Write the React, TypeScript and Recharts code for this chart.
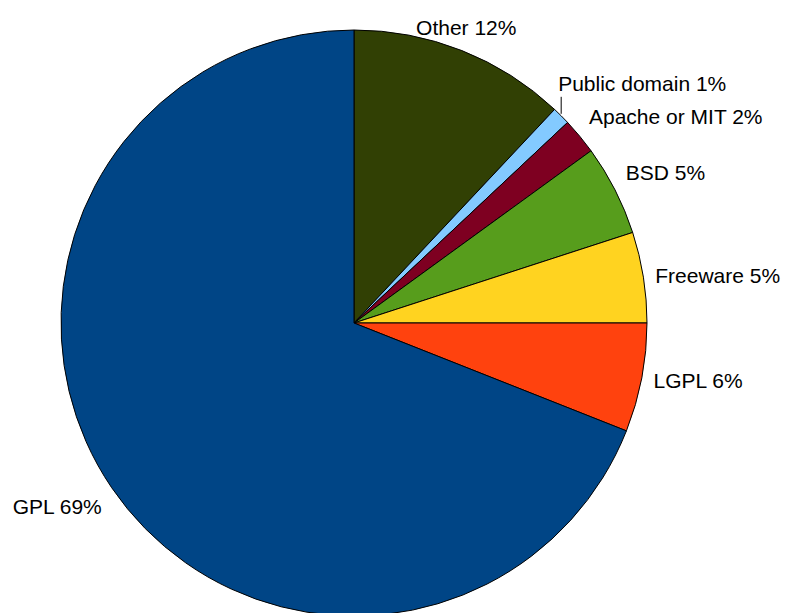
import React from "react";
import { PieChart, Pie, Cell } from "recharts";

const licenses = ["Other", "Public domain", "Apache or MIT", "BSD", "Freeware", "LGPL", "GPL"];
const shares = [12, 1, 2, 5, 5, 6, 69];
const colors = ["#314004", "#83caff", "#7e0021", "#579d1c", "#ffd320", "#ff420e", "#004586"];

const data = licenses.map((name, i) => ({ name, value: shares[i] }));

const RAD = Math.PI / 180;
const FONT = "'Liberation Sans', Arial, sans-serif";

const renderLabel = (props: any) => {
  const { cx, cy, midAngle, outerRadius, name, value, percent } = props;
  const c = Math.cos(-midAngle * RAD);
  const s = Math.sin(-midAngle * RAD);
  const text = `${name} ${value}%`;
  if (percent < 0.015) {
    const ex = cx + outerRadius * c;
    const ey = cy + outerRadius * s;
    const topY = ey - 19;
    return (
      <g>
        <line x1={ex} y1={ey - 2} x2={ex} y2={topY} stroke="#000" strokeWidth={1} />
        <text x={ex - 3} y={topY - 13.5} fill="#000" fontSize={21} fontFamily={FONT} textAnchor="start" dominantBaseline="central">
          {text}
        </text>
      </g>
    );
  }
  const r = outerRadius + 12;
  const px = cx + r * c;
  const py = cy + r * s;
  const lim = Math.sin(22.5 * RAD);
  const anchor = Math.abs(c) < lim ? "middle" : c > 0 ? "start" : "end";
  let y = py;
  if (Math.abs(s) >= lim) y = s < 0 ? py - 12 : py + 12;
  return (
    <text x={px} y={y} fill="#000" fontSize={21} fontFamily={FONT} textAnchor={anchor} dominantBaseline="central">
      {text}
    </text>
  );
};

export default function App() {
  return (
    <div style={{ position: "absolute", left: 0, top: 0, width: 787, height: 613, background: "#fff", overflow: "hidden" }}>
      <PieChart width={787} height={613}>
        <Pie
          data={data}
          dataKey="value"
          nameKey="name"
          cx={349}
          cy={318}
          outerRadius={293}
          startAngle={90}
          endAngle={-270}
          stroke="#000"
          strokeWidth={1}
          label={renderLabel}
          labelLine={false}
          isAnimationActive={false}
        >
          {data.map((d, i) => (
            <Cell key={d.name} fill={colors[i]} />
          ))}
        </Pie>
      </PieChart>
    </div>
  );
}
